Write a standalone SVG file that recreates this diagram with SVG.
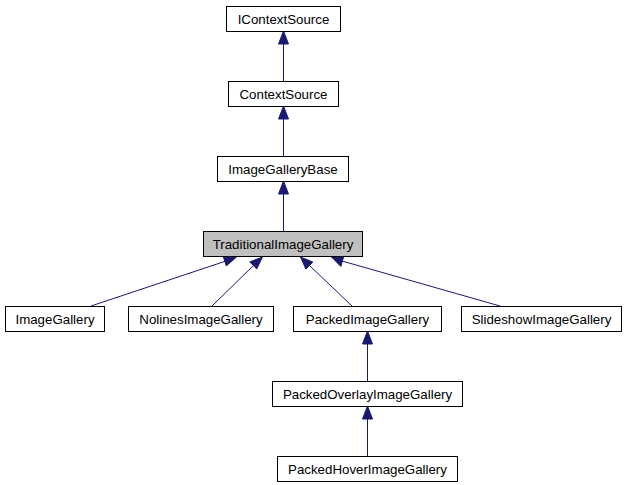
<svg xmlns="http://www.w3.org/2000/svg" width="626" height="485" viewBox="0 0 626 485">
<style>
.box{fill:#fff;stroke:#000;stroke-width:1}
.sel{fill:#bfbfbf;stroke:#000;stroke-width:1}
text{font-family:"Liberation Sans",Arial,sans-serif;font-size:13.3px;text-anchor:middle;fill:#000}
.e{stroke:#191970;stroke-width:1;fill:none}
.h{fill:#191970;stroke:#191970;stroke-width:1}
</style>
<rect width="626" height="485" fill="#fff"/>
<g id="edges">
<path class="e" d="M283.5,81V42"/><polygon class="h" points="283.5,31 278.5,44 288.5,44"/>
<path class="e" d="M283.5,156V117"/><polygon class="h" points="283.5,106 278.5,119 288.5,119"/>
<path class="e" d="M283.5,231V192"/><polygon class="h" points="283.5,181 278.5,194 288.5,194"/>
<path class="e" d="M91,306L226,261"/><polygon class="h" points="236.5,257 223.3,256.5 226.3,265.9"/>
<path class="e" d="M212,306L254,265"/><polygon class="h" points="262.5,257 249.8,261.9 256.7,268.9"/>
<path class="e" d="M352,306L309,265"/><polygon class="h" points="300.5,257 305.9,269.1 312.8,262.1"/>
<path class="e" d="M500,306L342,261"/><polygon class="h" points="331.5,257 340.8,266.4 343.6,256.9"/>
<path class="e" d="M367.5,381V342"/><polygon class="h" points="367.5,331 362.5,344 372.5,344"/>
<path class="e" d="M367.5,456V417"/><polygon class="h" points="367.5,406 362.5,419 372.5,419"/>
</g>
<g id="IContextSource"><rect class="box" x="226.5" y="6.5" width="114" height="25"/><text x="283.5" y="23.5">IContextSource</text></g>
<g id="ContextSource"><rect class="box" x="228.5" y="81.5" width="110" height="25"/><text x="283.5" y="98.5">ContextSource</text></g>
<g id="ImageGalleryBase"><rect class="box" x="217.5" y="156.5" width="131" height="25"/><text x="283" y="173.5">ImageGalleryBase</text></g>
<g id="TraditionalImageGallery"><rect class="sel" x="203.5" y="231.5" width="159" height="25"/><text x="283" y="248.5">TraditionalImageGallery</text></g>
<g id="ImageGallery"><rect class="box" x="5.5" y="306.5" width="99" height="25"/><text x="55" y="323.5">ImageGallery</text></g>
<g id="NolinesImageGallery"><rect class="box" x="128.5" y="306.5" width="145" height="25"/><text x="201" y="323.5">NolinesImageGallery</text></g>
<g id="PackedImageGallery"><rect class="box" x="293.5" y="306.5" width="148" height="25"/><text x="367.5" y="323.5">PackedImageGallery</text></g>
<g id="SlideshowImageGallery"><rect class="box" x="461.5" y="306.5" width="160" height="25"/><text x="541.5" y="323.5">SlideshowImageGallery</text></g>
<g id="PackedOverlayImageGallery"><rect class="box" x="272.5" y="381.5" width="190" height="25"/><text x="367.5" y="398.5">PackedOverlayImageGallery</text></g>
<g id="PackedHoverImageGallery"><rect class="box" x="277.5" y="456.5" width="180" height="25"/><text x="367.5" y="473.5">PackedHoverImageGallery</text></g>
</svg>
